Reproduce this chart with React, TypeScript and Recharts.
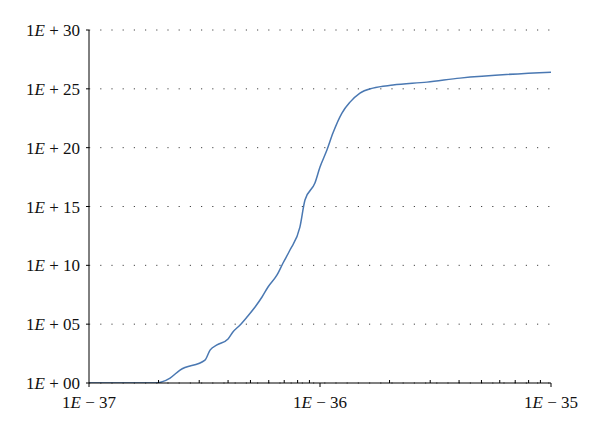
import React from 'react';
import { LineChart, Line, XAxis, YAxis, CartesianGrid } from 'recharts';

// values are log10 exponents
const xExp = [
  -37, -36.714, -36.649, -36.606, -36.498, -36.476, -36.446, -36.398, -36.377, -36.346,
  -36.316, -36.281, -36.251, -36.225, -36.186, -36.16, -36.13, -36.087, -36.065, -36.022,
  -36, -35.97, -35.944, -35.905, -35.87, -35.827, -35.771, -35.684, -35.537, -35.394, -35,
];
const yExp = [
  0, 0, 0.42, 1.1, 1.95, 2.8, 3.23, 3.74, 4.33, 4.93,
  5.61, 6.46, 7.31, 8.16, 9.18, 10.2, 11.3, 13.25, 15.55, 16.99,
  18.35, 19.8, 21.24, 22.94, 23.87, 24.64, 25.06, 25.32, 25.57, 25.91, 26.42,
];
const xMajor = [-37, -36, -35];
const yMajor = [0, 5, 10, 15, 20, 25, 30];

const data = xExp.map((x, i) => ({ x, y: yExp[i] }));

const xMinor: number[] = [];
[-37, -36].forEach(d => {
  for (let k = 2; k <= 9; k++) xMinor.push(d + Math.log10(k));
});
const xTicks = [...xMajor, ...xMinor].sort((a, b) => a - b);

const font = '"Liberation Serif", "DejaVu Serif", serif';

const label = (sign: string, n: number) => (
  <>
    <tspan>1</tspan>
    <tspan fontStyle="italic">E</tspan>
    <tspan>{` ${sign} ${String(Math.abs(n)).padStart(2, '0')}`}</tspan>
  </>
);

const XTick = (props: any) => {
  const { x, y, payload } = props;
  const v = payload.value;
  const major = xMajor.some(m => Math.abs(m - v) < 1e-9);
  if (!major) {
    return <line x1={x} x2={x} y1={y} y2={y - 3} stroke="#000" strokeWidth={1} />;
  }
  return (
    <g>
      <line x1={x} x2={x} y1={y} y2={y + 4} stroke="#000" strokeWidth={1} />
      <text x={x} y={y + 25} textAnchor="middle" fontSize={17} fontFamily={font} fill="#111">
        {label('\u2212', v)}
      </text>
    </g>
  );
};

const YTick = (props: any) => {
  const { x, y, payload } = props;
  return (
    <g>
      <line x1={x - 3} x2={x} y1={y} y2={y} stroke="#000" strokeWidth={1} />
      <text x={x - 9} y={y + 6} textAnchor="end" fontSize={17} fontFamily={font} fill="#111">
        {label('+', payload.value)}
      </text>
    </g>
  );
};

export default function App() {
  return (
    <div style={{ position: 'absolute', left: 0, top: 0, background: '#fff' }}>
      <LineChart width={600} height={433} data={data} margin={{ top: 30, right: 49, bottom: 10, left: 0 }}>
        <CartesianGrid vertical={false} stroke="#444" strokeDasharray="1.2 10" />
        <XAxis
          dataKey="x"
          type="number"
          domain={[-37, -35]}
          ticks={xTicks}
          interval={0}
          allowDataOverflow
          tickLine={false}
          tickSize={0}
          tickMargin={0}
          height={40}
          stroke="#000"
          tick={<XTick />}
        />
        <YAxis
          type="number"
          domain={[0, 30]}
          ticks={yMajor}
          interval={0}
          allowDataOverflow
          tickLine={false}
          tickSize={0}
          tickMargin={0}
          width={89}
          stroke="#000"
          tick={<YTick />}
        />
        <Line
          dataKey="y"
          type="monotone"
          stroke="#4a78b2"
          strokeWidth={1.5}
          dot={false}
          isAnimationActive={false}
        />
      </LineChart>
    </div>
  );
}
